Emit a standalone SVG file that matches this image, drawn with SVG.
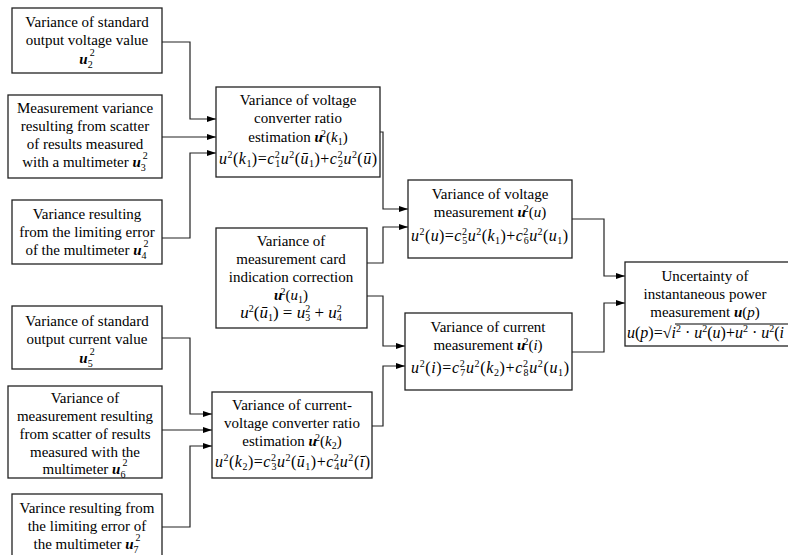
<svg xmlns="http://www.w3.org/2000/svg" width="788" height="555" viewBox="0 0 788 555">
<defs>
<marker id="a" markerWidth="9" markerHeight="6" refX="9" refY="3" orient="auto" markerUnits="userSpaceOnUse"><path d="M0,0 L9,3 L0,6 z" fill="#000"/></marker>
<style>
.b{fill:#fff;stroke:#222;stroke-width:1.3}
.t{font-family:"Liberation Serif",serif;font-size:15px;text-anchor:middle;fill:#000}
.f{font-family:"Liberation Serif",serif;font-size:16px;fill:#000}
.fm{font-family:"Liberation Serif",serif;font-size:17px;text-anchor:middle;fill:#000}
.i{font-style:italic}
.bi{font-style:italic;font-weight:bold}
.s{font-size:10px}
.c path{fill:none;stroke:#222;stroke-width:1.2}
.c .ar{marker-end:url(#a)}
</style>
</defs>
<rect width="788" height="555" fill="#fff"/>
<g class="c">
<path class="ar" d="M162,42 H190 V119 H216"/>
<path class="ar" d="M162,137 H216"/>
<path class="ar" d="M162,238 H190 V153 H216"/>
<path class="ar" d="M380,132 H383 V209 H408"/>
<path class="ar" d="M367,263 H383 V227 H408"/>
<path class="ar" d="M367,296 H383 V346 H405"/>
<path class="ar" d="M372,426 H383 V366 H405"/>
<path class="ar" d="M572,219 H604 V276 H625"/>
<path class="ar" d="M572,352 H604 V303 H625"/>
<path class="ar" d="M162,338 H190 V414 H212"/>
<path class="ar" d="M162,430 H212"/>
<path class="ar" d="M162,527 H190 V446 H212"/>
</g>
<g id="n_u2">
<rect class="b" x="12" y="8" width="150" height="65"/>
<text class="t" x="87" y="27">Variance of standard</text>
<text class="t" x="87" y="45">output voltage value</text>
<text class="t" x="87" y="64"><tspan class="bi">u</tspan><tspan class="s" dy="4">2</tspan><tspan class="s" dx="-3" dy="-12">2</tspan></text>
</g>
<g id="n_u3">
<rect class="b" x="8" y="95" width="154" height="83"/>
<text class="t" x="85" y="113">Measurement variance</text>
<text class="t" x="85" y="131">resulting from scatter</text>
<text class="t" x="85" y="149">of results measured</text>
<text class="t" x="85" y="167">with a multimeter <tspan class="bi">u</tspan><tspan class="s" dy="4">3</tspan><tspan class="s" dx="-3" dy="-12">2</tspan></text>
</g>
<g id="n_u4">
<rect class="b" x="12" y="200" width="150" height="64"/>
<text class="t" x="87" y="219">Variance resulting</text>
<text class="t" x="87" y="237">from the limiting error</text>
<text class="t" x="87" y="255">of the multimeter <tspan class="bi">u</tspan><tspan class="s" dy="4">4</tspan><tspan class="s" dx="-3" dy="-12">2</tspan></text>
</g>
<g id="n_k1">
<rect class="b" x="216" y="87" width="164" height="90"/>
<text class="t" x="298" y="105">Variance of voltage</text>
<text class="t" x="298" y="123">converter ratio</text>
<text class="t" x="298" y="142">estimation <tspan class="bi">u</tspan><tspan class="s" dx="-2" dy="-5">2</tspan><tspan dy="5">(</tspan><tspan class="i">k</tspan><tspan class="s" dy="3">1</tspan><tspan dy="-3">)</tspan></text>
<text class="f" x="219" y="164" textLength="158"><tspan class="i">u</tspan><tspan class="s" dy="-6">2</tspan><tspan dy="6">(</tspan><tspan class="i">k</tspan><tspan class="s" dy="3">1</tspan><tspan dy="-3">)=</tspan><tspan class="i">c</tspan><tspan class="s" dy="-6">2</tspan><tspan class="s" dx="-5" dy="9">1</tspan><tspan class="i" dy="-3">u</tspan><tspan class="s" dy="-6">2</tspan><tspan dy="6">(</tspan><tspan class="i">ū</tspan><tspan class="s" dy="3">1</tspan><tspan dy="-3">)+</tspan><tspan class="i">c</tspan><tspan class="s" dy="-6">2</tspan><tspan class="s" dx="-5" dy="9">2</tspan><tspan class="i" dy="-3">u</tspan><tspan class="s" dy="-6">2</tspan><tspan dy="6">(</tspan><tspan class="i">ū</tspan><tspan>)</tspan></text>
</g>
<g id="n_card">
<rect class="b" x="216" y="228" width="151" height="100"/>
<text class="t" x="291" y="246">Variance of</text>
<text class="t" x="291" y="264">measurement card</text>
<text class="t" x="291" y="282">indication correction</text>
<text class="t" x="291" y="300"><tspan class="bi">u</tspan><tspan class="s" dx="-2" dy="-5">2</tspan><tspan dy="5">(</tspan><tspan class="i">u</tspan><tspan class="s" dy="3">1</tspan><tspan dy="-3">)</tspan></text>
<text class="fm" x="291" y="318"><tspan class="i">u</tspan><tspan class="s" dy="-6">2</tspan><tspan dy="6">(</tspan><tspan class="i">ū</tspan><tspan class="s" dy="3">1</tspan><tspan dy="-3">) = </tspan><tspan class="i">u</tspan><tspan class="s" dy="-6">2</tspan><tspan class="s" dx="-5" dy="9">3</tspan><tspan dy="-3"> + </tspan><tspan class="i">u</tspan><tspan class="s" dy="-6">2</tspan><tspan class="s" dx="-5" dy="9">4</tspan></text>
</g>
<g id="n_volt">
<rect class="b" x="408" y="180" width="164" height="78"/>
<text class="t" x="490" y="199">Variance of voltage</text>
<text class="t" x="490" y="217">measurement <tspan class="bi">u</tspan><tspan class="s" dx="-2" dy="-5">2</tspan><tspan dy="5">(</tspan><tspan class="i">u</tspan><tspan>)</tspan></text>
<text class="f" x="411" y="241" textLength="157"><tspan class="i">u</tspan><tspan class="s" dy="-6">2</tspan><tspan dy="6">(</tspan><tspan class="i">u</tspan><tspan>)=</tspan><tspan class="i">c</tspan><tspan class="s" dy="-6">2</tspan><tspan class="s" dx="-5" dy="9">5</tspan><tspan class="i" dy="-3">u</tspan><tspan class="s" dy="-6">2</tspan><tspan dy="6">(</tspan><tspan class="i">k</tspan><tspan class="s" dy="3">1</tspan><tspan dy="-3">)+</tspan><tspan class="i">c</tspan><tspan class="s" dy="-6">2</tspan><tspan class="s" dx="-5" dy="9">6</tspan><tspan class="i" dy="-3">u</tspan><tspan class="s" dy="-6">2</tspan><tspan dy="6">(</tspan><tspan class="i">u</tspan><tspan class="s" dy="3">1</tspan><tspan dy="-3">)</tspan></text>
</g>
<g id="n_curr">
<rect class="b" x="405" y="313" width="167" height="77"/>
<text class="t" x="488" y="332">Variance of current</text>
<text class="t" x="488" y="350">measurement <tspan class="bi">u</tspan><tspan class="s" dx="-2" dy="-5">2</tspan><tspan dy="5">(</tspan><tspan class="i">i</tspan><tspan>)</tspan></text>
<text class="f" x="411" y="373" textLength="158"><tspan class="i">u</tspan><tspan class="s" dy="-6">2</tspan><tspan dy="6">(</tspan><tspan class="i">i</tspan><tspan>)=</tspan><tspan class="i">c</tspan><tspan class="s" dy="-6">2</tspan><tspan class="s" dx="-5" dy="9">7</tspan><tspan class="i" dy="-3">u</tspan><tspan class="s" dy="-6">2</tspan><tspan dy="6">(</tspan><tspan class="i">k</tspan><tspan class="s" dy="3">2</tspan><tspan dy="-3">)+</tspan><tspan class="i">c</tspan><tspan class="s" dy="-6">2</tspan><tspan class="s" dx="-5" dy="9">8</tspan><tspan class="i" dy="-3">u</tspan><tspan class="s" dy="-6">2</tspan><tspan dy="6">(</tspan><tspan class="i">u</tspan><tspan class="s" dy="3">1</tspan><tspan dy="-3">)</tspan></text>
</g>
<g id="n_unc">
<rect class="b" x="625" y="262" width="175" height="84"/>
<text class="t" x="705" y="281">Uncertainty of</text>
<text class="t" x="705" y="299">instantaneous  power</text>
<text class="t" x="705" y="317">measurement <tspan class="bi">u</tspan><tspan>(</tspan><tspan class="i">p</tspan><tspan>)</tspan></text>
<text class="f" x="627" y="338"><tspan class="i">u</tspan><tspan>(</tspan><tspan class="i">p</tspan><tspan>)=√</tspan><tspan class="i">i</tspan><tspan class="s" dy="-6">2</tspan><tspan dy="6"> · </tspan><tspan class="i">u</tspan><tspan class="s" dy="-6">2</tspan><tspan dy="6">(</tspan><tspan class="i">u</tspan><tspan>)+</tspan><tspan class="i">u</tspan><tspan class="s" dy="-6">2</tspan><tspan dy="6"> · </tspan><tspan class="i">u</tspan><tspan class="s" dy="-6">2</tspan><tspan dy="6">(</tspan><tspan class="i">i</tspan></text>
<path d="M675,324 H790" fill="none" stroke="#000" stroke-width="1"/>
</g>
<g id="n_u5">
<rect class="b" x="12" y="306" width="150" height="63"/>
<text class="t" x="87" y="326">Variance of standard</text>
<text class="t" x="87" y="344">output current value</text>
<text class="t" x="87" y="363"><tspan class="bi">u</tspan><tspan class="s" dy="4">5</tspan><tspan class="s" dx="-3" dy="-12">2</tspan></text>
</g>
<g id="n_u6">
<rect class="b" x="8" y="386" width="154" height="92"/>
<text class="t" x="85" y="403">Variance of</text>
<text class="t" x="85" y="421">measurement resulting</text>
<text class="t" x="85" y="439">from scatter of results</text>
<text class="t" x="85" y="457">measured with the</text>
<text class="t" x="85" y="474">multimeter <tspan class="bi">u</tspan><tspan class="s" dy="4">6</tspan><tspan class="s" dx="-3" dy="-12">2</tspan></text>
</g>
<g id="n_u7">
<rect class="b" x="12" y="494" width="150" height="70"/>
<text class="t" x="87" y="513">Varince resulting from</text>
<text class="t" x="87" y="531">the limiting error of</text>
<text class="t" x="87" y="549">the multimeter <tspan class="bi">u</tspan><tspan class="s" dy="4">7</tspan><tspan class="s" dx="-3" dy="-12">2</tspan></text>
</g>
<g id="n_k2">
<rect class="b" x="212" y="392" width="160" height="86"/>
<text class="t" x="292" y="410">Variance of current-</text>
<text class="t" x="292" y="428">voltage converter ratio</text>
<text class="t" x="292" y="446">estimation <tspan class="bi">u</tspan><tspan class="s" dx="-2" dy="-5">2</tspan><tspan dy="5">(</tspan><tspan class="i">k</tspan><tspan class="s" dy="3">2</tspan><tspan dy="-3">)</tspan></text>
<text class="f" x="215" y="467" textLength="155"><tspan class="i">u</tspan><tspan class="s" dy="-6">2</tspan><tspan dy="6">(</tspan><tspan class="i">k</tspan><tspan class="s" dy="3">2</tspan><tspan dy="-3">)=</tspan><tspan class="i">c</tspan><tspan class="s" dy="-6">2</tspan><tspan class="s" dx="-5" dy="9">3</tspan><tspan class="i" dy="-3">u</tspan><tspan class="s" dy="-6">2</tspan><tspan dy="6">(</tspan><tspan class="i">ū</tspan><tspan class="s" dy="3">1</tspan><tspan dy="-3">)+</tspan><tspan class="i">c</tspan><tspan class="s" dy="-6">2</tspan><tspan class="s" dx="-5" dy="9">4</tspan><tspan class="i" dy="-3">u</tspan><tspan class="s" dy="-6">2</tspan><tspan dy="6">(</tspan><tspan class="i">ī</tspan><tspan>)</tspan></text>
</g>
</svg>
